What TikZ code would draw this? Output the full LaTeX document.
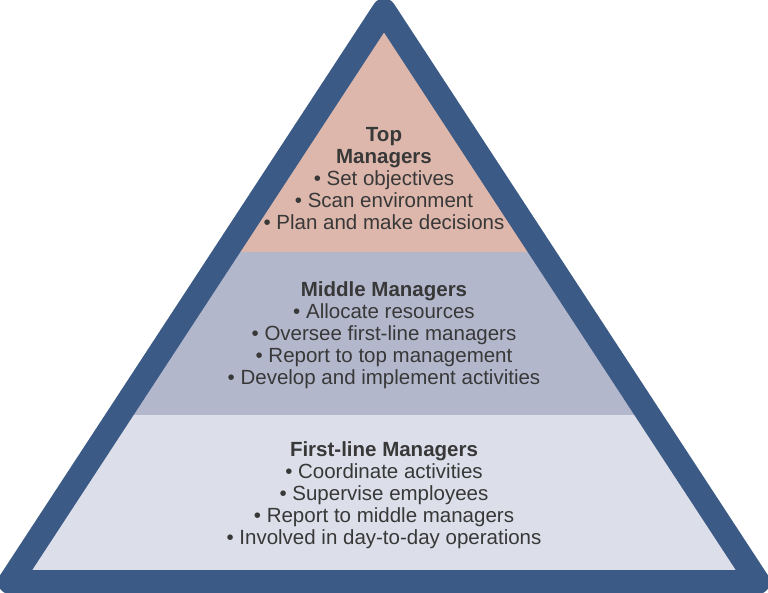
\documentclass[tikz,border=0pt]{standalone}
\usepackage{fontspec}
\setmainfont{Liberation Sans}
\definecolor{bordercol}{HTML}{3B5A86}
\definecolor{topcol}{HTML}{DDB7AB}
\definecolor{midcol}{HTML}{B3B7CC}
\definecolor{botcol}{HTML}{DCDEE9}
\definecolor{txtcol}{HTML}{383838}
\tikzset{
  bandtext/.style={align=center, text=txtcol, font=\fontsize{20.5}{22}\selectfont, inner sep=0pt},
}
\begin{document}
\begin{tikzpicture}[x=1pt,y=-1pt]
\useasboundingbox (0,0) rectangle (768,593);
\coordinate (A) at (384,10.5);
\coordinate (L) at (10,582);
\coordinate (R) at (758,582);
\begin{scope}
  \clip (A) -- (L) -- (R) -- cycle;
  \fill[topcol] (0,0) rectangle (768,252);
  \fill[midcol] (0,252) rectangle (768,415);
  \fill[botcol] (0,415) rectangle (768,593);
\end{scope}
\draw[bordercol, line width=24pt, line join=round] (A) -- (L) -- (R) -- cycle;
\node[bandtext] (top) at (384,179) {\textbf{Top}\\\textbf{Managers}\\• Set objectives\\• Scan environment\\• Plan and make decisions};
\node[bandtext] (mid) at (384,335) {\textbf{Middle Managers}\\• Allocate resources\\• Oversee first-line managers\\• Report to top management\\• Develop and implement activities};
\node[bandtext] (bot) at (384,495) {\textbf{First-line Managers}\\• Coordinate activities\\• Supervise employees\\• Report to middle managers\\• Involved in day-to-day operations};
\end{tikzpicture}
\end{document}
